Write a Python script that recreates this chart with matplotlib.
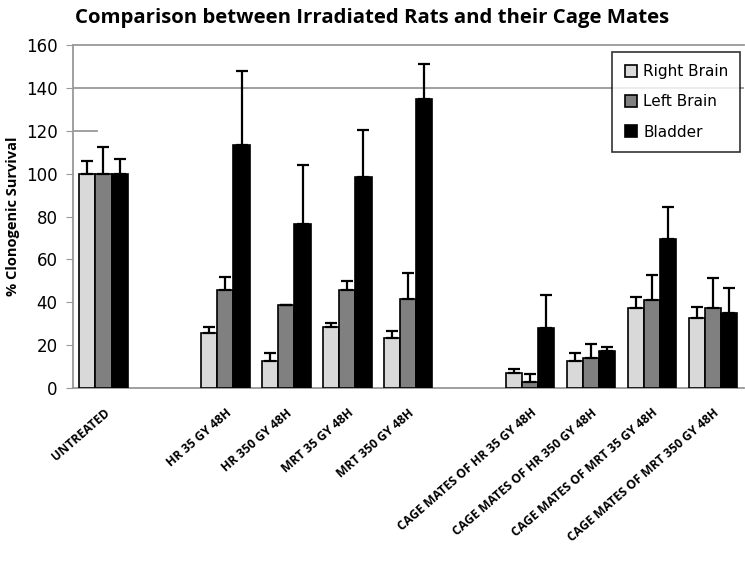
import numpy as np
import matplotlib.pyplot as plt

groups = ["Untreated", "", "HR 35 Gy 48h", "HR 350 Gy 48h", "MRT 35 Gy 48h", "MRT 350 Gy 48h", "",
          "Cage Mates of HR 35 Gy 48h", "Cage Mates of HR 350 Gy 48h",
          "Cage Mates of MRT 35 Gy 48h", "Cage Mates of MRT 350 Gy 48h"]
tick_labels = ["UNTREATED", "", "HR 35 GY 48H", "HR 350 GY 48H", "MRT 35 GY 48H", "MRT 350 GY 48H", "",
               "CAGE MATES OF HR 35 GY 48H", "CAGE MATES OF HR 350 GY 48H",
               "CAGE MATES OF MRT 35 GY 48H", "CAGE MATES OF MRT 350 GY 48H"]
series = ["Right Brain", "Left Brain", "Bladder"]

right_brain = [100, np.nan, 25.8, 12.8, 28.6, 23.6, np.nan, 7.2, 12.8, 37.2, 32.5]
right_err = [6.0, 0, 2.5, 3.7, 1.6, 3.2, 0, 1.7, 3.7, 5.4, 5.4]
left_brain = [100, np.nan, 45.7, 38.7, 45.7, 41.8, np.nan, 3.0, 14.3, 41.1, 37.2]
left_err = [12.3, 0, 6.1, 0, 4.2, 12.0, 0, 3.4, 6.2, 11.6, 14.0]
bladder = [100, np.nan, 113.4, 76.5, 98.6, 134.7, np.nan, 27.9, 17.5, 69.5, 34.9]
bladder_err = [6.9, 0, 34.2, 27.4, 21.8, 16.2, 0, 15.4, 1.5, 14.8, 11.6]

colors = ["#d9d9d9", "#808080", "#000000"]

fig = plt.figure(figsize=(7.45, 5.61), dpi=100)
ax = fig.add_axes([0.098, 0.308, 0.9, 0.612])

x = np.arange(len(groups))
w = 0.265
vals = [right_brain, left_brain, bladder]
errs = [right_err, left_err, bladder_err]
for i, (v, e) in enumerate(zip(vals, errs)):
    v = np.array(v)
    e = np.array(e)
    ok = ~np.isnan(v)
    pos = x[ok] + (i - 1) * w
    ax.bar(pos, v[ok], w, color=colors[i], edgecolor="black", linewidth=1.2,
           label=series[i], zorder=3)
    ax.errorbar(pos, v[ok], yerr=[np.zeros(ok.sum()), e[ok]], fmt="none",
                ecolor="black", elinewidth=1.6, capsize=4, capthick=1.6, zorder=4)

ax.set_xlim(-0.5, len(groups) - 0.5)
ax.set_ylim(0, 160)
ax.set_yticks(range(0, 161, 20))
ax.tick_params(axis="y", labelsize=12, length=5, color="#999999", pad=6)
ax.axhline(140, color="#999999", linewidth=1.3, zorder=1)
ax.plot([-0.5, -0.1], [120, 120], color="#999999", linewidth=1.3, zorder=1)

ax.set_xticks(x)
ax.set_xticklabels(tick_labels, rotation=41, ha="right", rotation_mode="anchor",
                   fontsize=8.8, fontweight="bold", family="Open Sans")
ax.tick_params(axis="x", length=0, pad=13)

for s in ["left", "bottom", "top"]:
    ax.spines[s].set_color("#999999")
    ax.spines[s].set_linewidth(1.3)
ax.spines["right"].set_visible(False)

ax.set_ylabel("% Clonogenic Survival", fontsize=10.5, fontweight="bold", family="Open Sans")
fig.suptitle("Comparison between Irradiated Rats and their Cage Mates", x=0.5, y=0.985,
             fontsize=14.7, fontweight="bold", family="Open Sans")

leg = ax.legend(loc="upper right", bbox_to_anchor=(0.9955, 0.98), borderaxespad=0,
                frameon=True, fancybox=False,
                edgecolor="black", fontsize=11, handlelength=0.8, handleheight=0.8,
                labelspacing=1.0, borderpad=0.8, handletextpad=0.4)
leg.get_frame().set_linewidth(1.2)

fig.savefig("out.png", dpi=100)
